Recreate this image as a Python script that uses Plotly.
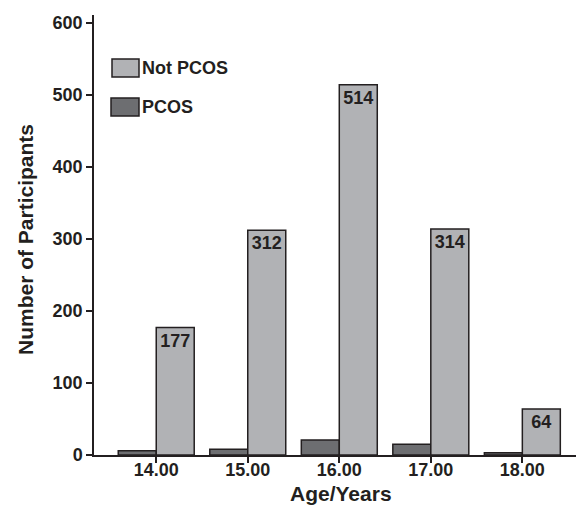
import plotly.graph_objects as go

ages = [14, 15, 16, 17, 18]
tick_labels = ["14.00", "15.00", "16.00", "17.00", "18.00"]
y_ticks = [0, 100, 200, 300, 400, 500, 600]
pcos = [6, 8, 21, 15, 3]
not_pcos = [177, 312, 514, 314, 64]

FONT = "Liberation Sans, Arial, sans-serif"
INK = "#231f20"
LIGHT = "#b1b2b5"
DARK = "#6d6e71"

OFF = 8  # page body margin of the browser
W, H = 584 - OFF, 506 - OFF
L, R, T, B = 94 - OFF, 580 - OFF, 15 - OFF, 455 - OFF  # plot area in figure pixels

fig = go.Figure()
fig.add_trace(go.Bar(x=ages, y=pcos, name="PCOS",
                     marker=dict(color=DARK, line=dict(color=INK, width=1.5))))
fig.add_trace(go.Bar(x=ages, y=not_pcos, name="Not PCOS", text=[str(v) for v in not_pcos],
                     textposition="inside", insidetextanchor="end",
                     textfont=dict(family=FONT, size=18, color=INK, weight="bold"),
                     marker=dict(color=LIGHT, line=dict(color=INK, width=1.5))))

fig.update_layout(
    width=W, height=H,
    margin=dict(l=L, r=W - R, t=T, b=H - B, autoexpand=False),
    paper_bgcolor="white", plot_bgcolor="white",
    barmode="group", bargap=0.17, bargroupgap=0,
    showlegend=False,
    font=dict(family=FONT, color=INK),
)
fig.update_xaxes(range=[13.32, 18.63], tickvals=ages, ticktext=tick_labels, automargin=False,
                 showgrid=False, zeroline=False, showline=True, linecolor=INK, linewidth=1.5,
                 ticks="outside", ticklen=6, tickwidth=1.5, tickcolor=INK,
                 ticklabelstandoff=-8,
                 tickfont=dict(family=FONT, size=18, color=INK, weight="bold"))
fig.update_yaxes(range=[0, 611], tickvals=y_ticks, automargin=False,
                 showgrid=False, zeroline=False, showline=True, linecolor=INK, linewidth=1.5,
                 ticks="outside", ticklen=6, tickwidth=1.5, tickcolor=INK,
                 tickfont=dict(family=FONT, size=18, color=INK, weight="bold"))


def px2paper(px, py):
    # px, py given in page pixels
    return (px - OFF - L) / (R - L), (B - (py - OFF)) / (B - T)


# axis titles
ax, ay = px2paper(341, 506)
fig.add_annotation(xref="paper", yref="paper", x=ax, y=ay, xanchor="center", yanchor="bottom",
                   text="Age/Years", showarrow=False, borderpad=0,
                   font=dict(family=FONT, size=21, color=INK, weight="bold"))
ax, ay = px2paper(25, 240)
fig.add_annotation(xref="paper", yref="paper", x=ax, y=ay, xanchor="center", yanchor="middle",
                   text="Number of Participants", showarrow=False, textangle=-90,
                   font=dict(family=FONT, size=21, color=INK, weight="bold"))

# manual legend
for (x0, y0, x1, y1, col, label, ty) in [
    (112, 59, 139, 77, LIGHT, "Not PCOS", 68),
    (111, 98, 139, 116, DARK, "PCOS", 107),
]:
    a0, b0 = px2paper(x0, y1)
    a1, b1 = px2paper(x1, y0)
    fig.add_shape(type="rect", xref="paper", yref="paper", x0=a0, y0=b0, x1=a1, y1=b1,
                  fillcolor=col, line=dict(color=INK, width=1.5))
    tx, tyy = px2paper(140, ty)
    fig.add_annotation(xref="paper", yref="paper", x=tx, y=tyy, xanchor="left", yanchor="middle",
                       text=label, showarrow=False,
                       font=dict(family=FONT, size=18, color=INK, weight="bold"))

fig.write_html("out.html")
